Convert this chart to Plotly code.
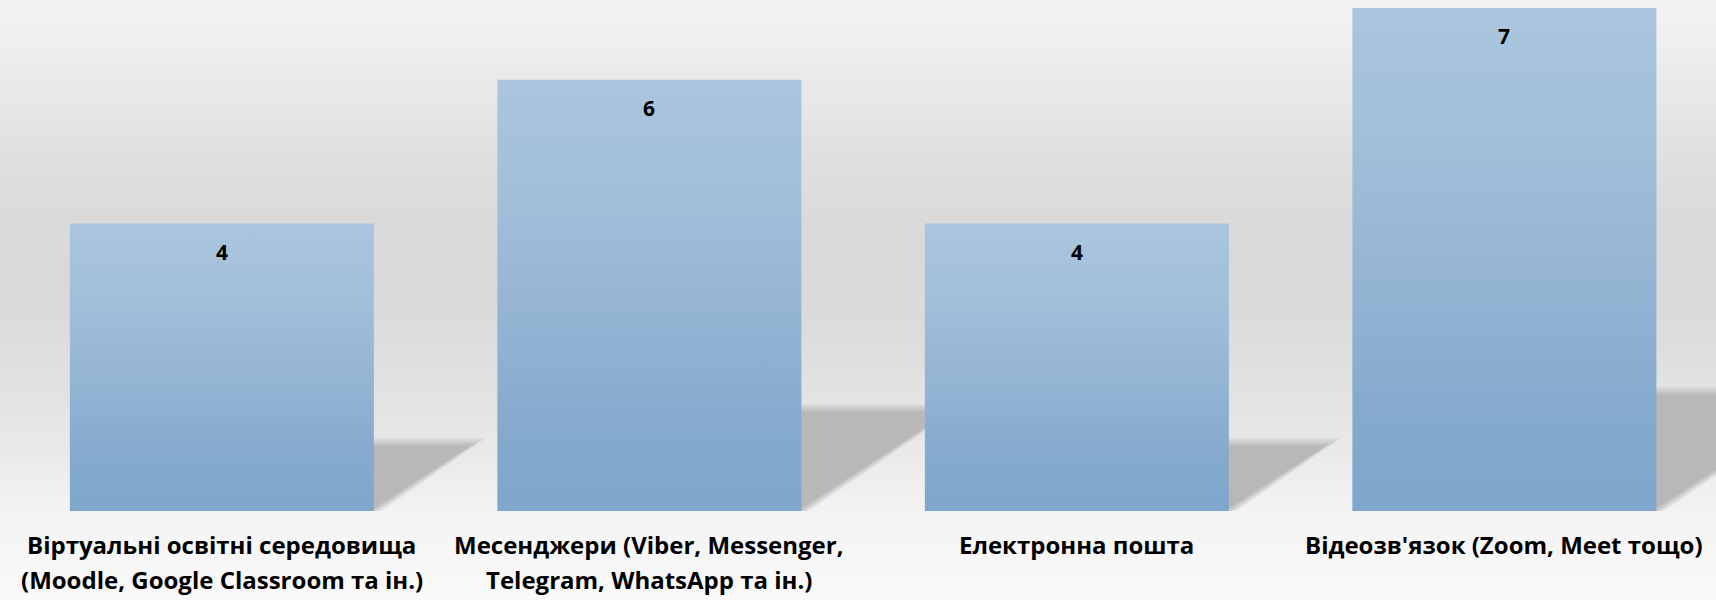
import base64
import struct
import zlib

import plotly.graph_objects as go

# ---------------- data ----------------
categories = [
    "Віртуальні освітні середовища<br>(Moodle, Google Classroom та ін.)",
    "Месенджери (Viber, Messenger,<br>Telegram, WhatsApp та ін.)",
    "Електронна пошта",
    "Відеозв'язок (Zoom, Meet тощо)",
]
values = [4, 6, 4, 7]

# ---------------- layout constants ----------------
W, H = 1716, 600
ML, MR, MT, MB = 0, 0, 8, 89
X_RANGE = [-0.519, 3.495]
Y_RANGE = [0, 7]
BAR_HALF = 0.3556
PX_X = (W - ML - MR) / (X_RANGE[1] - X_RANGE[0])
PX_Y = (H - MT - MB) / (Y_RANGE[1] - Y_RANGE[0])

FONT = "Open Sans"
bar_colorscale = [
    [0.0, "#7fa6cb"],
    [0.2, "#85aace"],
    [0.45, "#94b4d3"],
    [0.75, "#a3c0da"],
    [1.0, "#aac5dd"],
]
# background grey level by pixel row
bg_stops = [
    (0, 0xF3), (40, 0xEF), (100, 0xE7), (160, 0xDF), (220, 0xDA),
    (280, 0xD9), (330, 0xDC), (380, 0xE1), (420, 0xE5), (450, 0xE9),
    (480, 0xEE), (511, 0xF3), (540, 0xF5), (600, 0xF9),
]


def gradient_png(stops, height, width=4):
    rows = []
    for y in range(height):
        g = stops[-1][1]
        for (y0, g0), (y1, g1) in zip(stops[:-1], stops[1:]):
            if y0 <= y <= y1:
                t = (y - y0) / (y1 - y0) if y1 > y0 else 0
                g = int(round(g0 + (g1 - g0) * t))
                break
        rows.append(b"\x00" + bytes([g, g, g]) * width)
    raw = b"".join(rows)

    def chunk(tag, data):
        return (struct.pack(">I", len(data)) + tag + data
                + struct.pack(">I", zlib.crc32(tag + data) & 0xFFFFFFFF))

    png = (b"\x89PNG\r\n\x1a\n"
           + chunk(b"IHDR", struct.pack(">IIBBBBB", width, height, 8, 2, 0, 0, 0))
           + chunk(b"IDAT", zlib.compress(raw))
           + chunk(b"IEND", b""))
    return "data:image/png;base64," + base64.b64encode(png).decode()


fig = go.Figure()

# bars with vertical gradient
for i, v in enumerate(values):
    fig.add_trace(go.Scatter(
        x=[i - BAR_HALF, i + BAR_HALF, i + BAR_HALF, i - BAR_HALF, i - BAR_HALF],
        y=[0, 0, v, v, 0],
        mode="lines",
        line=dict(width=0, color="rgba(0,0,0,0)"),
        fill="toself",
        fillgradient=dict(type="vertical", colorscale=bar_colorscale, start=0, stop=v),
        hoverinfo="skip",
        showlegend=False,
    ))

# perspective shadows (soft edges via layered triangles)
shapes = []
for i, v in enumerate(values):
    xr = i + BAR_HALF
    h_px = 17.0 * v
    w_px = 25.5 * v
    for grow, op in [(5, 0.25), (2.5, 0.35), (0, 0.5), (-2.5, 1.0)]:
        top = (h_px + grow) / PX_Y
        xl = xr - 0.02
        xt = xr + (w_px + grow * 2.0) / PX_X
        shapes.append(dict(
            type="path",
            xref="x", yref="y",
            path=f"M {xl},0 L {xl},{top} L {xt},{top} L {xr + grow * 1.5 / PX_X},0 Z",
            fillcolor="#b8b8b8",
            opacity=op,
            line=dict(width=0),
            layer="below",
        ))

annotations = []
for i, v in enumerate(values):
    annotations.append(dict(
        x=i, y=v, xref="x", yref="y", text=str(v), showarrow=False,
        yshift=-28, yanchor="middle",
        font=dict(family=FONT, size=21, color="#000000", weight="bold"),
    ))
    for j, line in enumerate(categories[i].split("<br>")):
        annotations.append(dict(
            x=i, y=0, xref="x", yref="y", text=line, showarrow=False,
            yshift=-33 - 35.5 * j, yanchor="middle",
            font=dict(family=FONT, size=24, color="#000000", weight="bold"),
        ))

ph = H - MT - MB
pw = W - ML - MR
fig.update_layout(
    width=W, height=H,
    margin=dict(l=ML, r=MR, t=MT, b=MB, pad=0),
    paper_bgcolor="#f8f8f8",
    plot_bgcolor="rgba(0,0,0,0)",
    showlegend=False,
    shapes=shapes,
    annotations=annotations,
    images=[dict(
        source=gradient_png(bg_stops, H),
        xref="paper", yref="paper",
        x=-ML / pw, y=1 + MT / ph,
        sizex=W / pw, sizey=H / ph,
        xanchor="left", yanchor="top",
        sizing="stretch", layer="below",
    )],
    xaxis=dict(range=X_RANGE, visible=False, fixedrange=True),
    yaxis=dict(range=Y_RANGE, visible=False, fixedrange=True),
    hovermode=False,
)

fig.write_html(
    "out.html",
    config={"displayModeBar": False},
    post_script="document.body.style.margin='0';document.body.style.overflow='hidden';",
)
